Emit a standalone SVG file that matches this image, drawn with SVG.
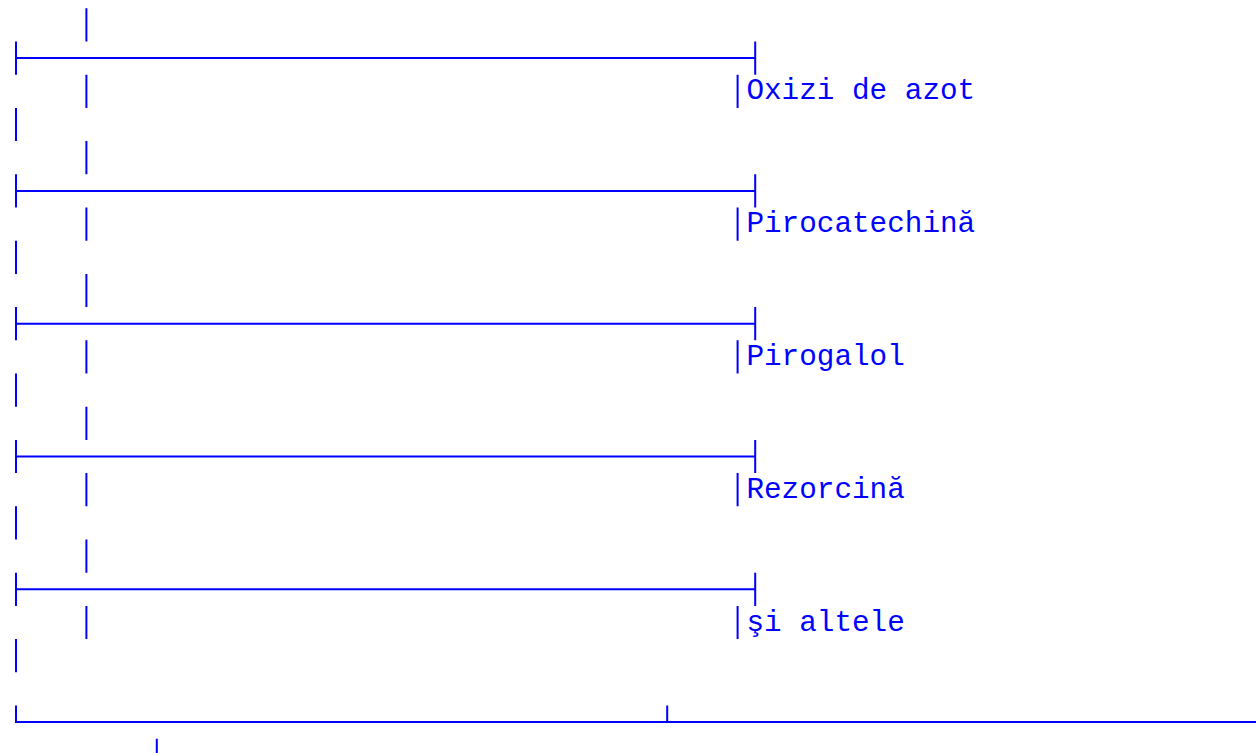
<svg xmlns="http://www.w3.org/2000/svg" width="1256" height="753" viewBox="0 0 1256 753">
<style>
.ln{fill:none;stroke:#0000FF;stroke-width:2;stroke-linecap:butt}
.lb{font-family:"Liberation Mono","Courier New",monospace;font-size:29.33px;fill:#0000FF}
</style>
<rect width="1256" height="753" fill="#FFFFFF"/>
<g id="connectors">
<path class="ln" d="M86.4 8.3V41.5M86.4 74.7V107.9M86.4 141.1V174.3M86.4 207.5V240.7M86.4 273.9V307.1M86.4 340.3V373.5M86.4 406.7V439.9M86.4 473.1V506.3M86.4 539.5V572.7M86.4 605.9V639.1"/>
<path class="ln" d="M16 41.5V74.7M16 107.9V141.1M16 174.3V207.5M16 240.7V273.9M16 307.1V340.3M16 373.5V406.7M16 439.9V473.1M16 506.3V539.5M16 572.7V605.9M16 639.1V672.3"/>
<path class="ln" d="M16 58.1H755.2M16 190.9H755.2M16 323.7H755.2M16 456.5H755.2M16 589.3H755.2"/>
<path class="ln" d="M755.2 41.5V74.7M755.2 174.3V207.5M755.2 307.1V340.3M755.2 439.9V473.1M755.2 572.7V605.9"/>
<path class="ln" d="M737.6 74.7V107.9M737.6 207.5V240.7M737.6 340.3V373.5M737.6 473.1V506.3M737.6 605.9V639.1"/>
<path class="ln" d="M16 705.5V722.1H1256M667.2 705.5V722.1M156.8 738.7V753"/>
</g>
<g id="node-oxizi"><text class="lb" x="746.4" y="99.3">Oxizi de azot</text></g>
<g id="node-pirocatechina"><text class="lb" x="746.4" y="232.1">Pirocatechină</text></g>
<g id="node-pirogalol"><text class="lb" x="746.4" y="364.9">Pirogalol</text></g>
<g id="node-rezorcina"><text class="lb" x="746.4" y="497.7">Rezorcină</text></g>
<g id="node-altele"><text class="lb" x="746.4" y="630.5">şi altele</text></g>
</svg>
